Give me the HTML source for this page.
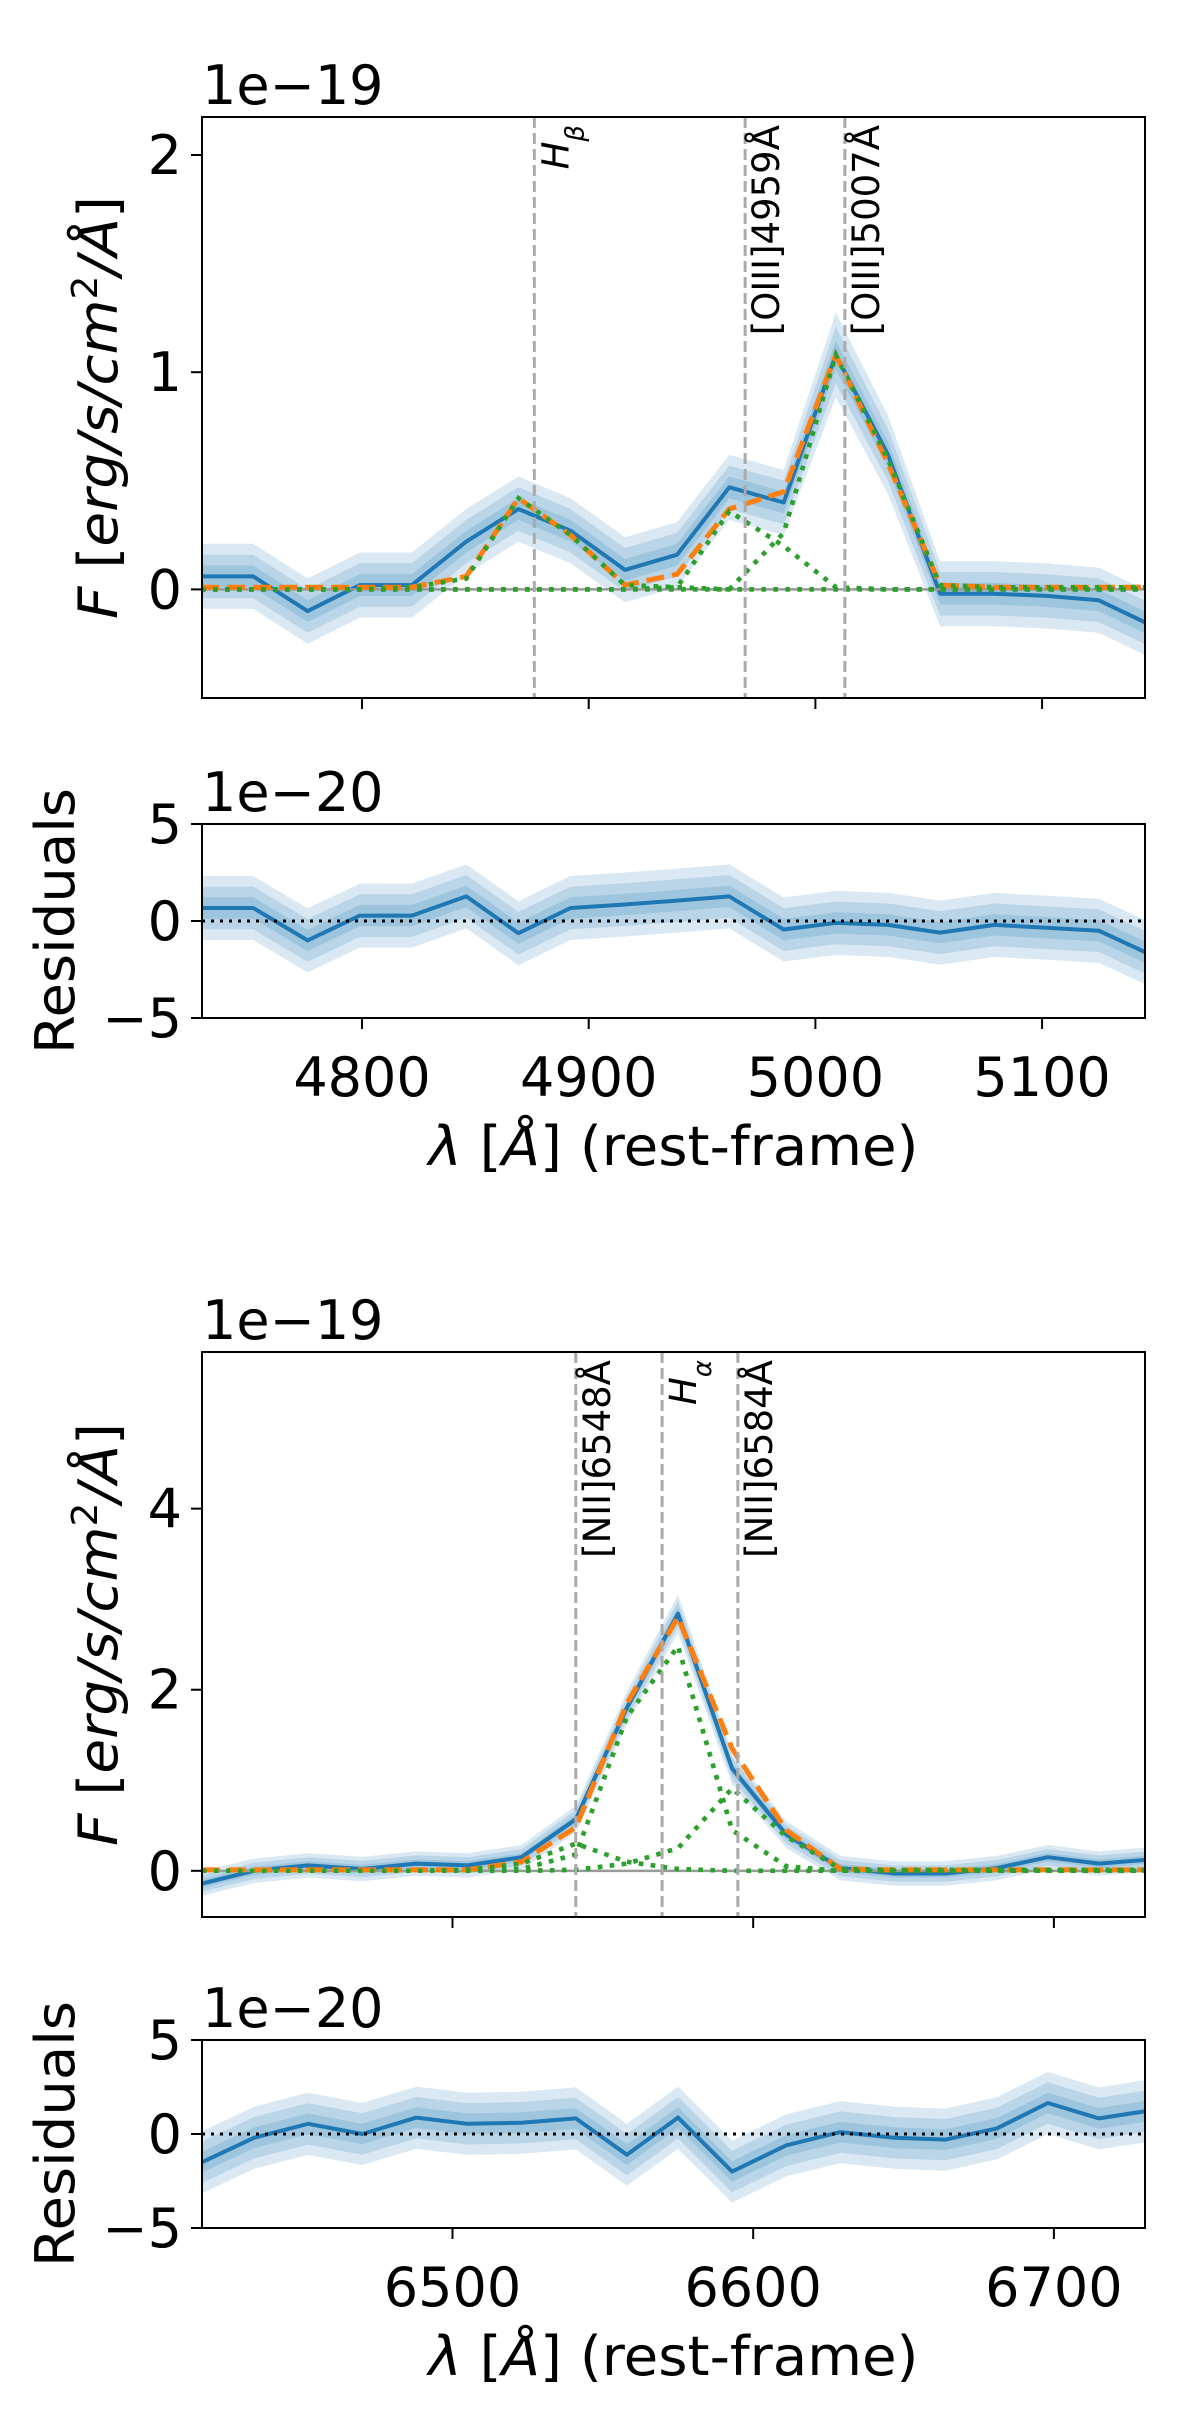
<!DOCTYPE html>
<html><head><meta charset="utf-8"><title>Emission line fits</title>
<style>
html,body{margin:0;padding:0;background:#fff;}
svg{display:block;font-family:"DejaVu Sans","Liberation Sans",sans-serif;}
</style></head>
<body>
<svg id="fig" width="1200" height="2435" viewBox="0 0 1200 2435" xmlns="http://www.w3.org/2000/svg"></svg>
<script>
// ---------- DATA: panel 1 (H-beta / [OIII]) ----------
const wave1 = [4729,4752,4776,4799,4822,4846,4869,4892,4916,4939,4962,4986,5009,5032,5055,5079,5102,5125,5149];
const flux1 = [0.06,0.06,-0.10,0.02,0.02,0.22,0.37,0.27,0.09,0.16,0.47,0.40,1.08,0.62,-0.02,-0.02,-0.03,-0.05,-0.17];
const sigma1 = [0.05,0.05,0.05,0.05,0.05,0.05,0.05,0.05,0.05,0.05,0.05,0.05,0.065,0.06,0.05,0.05,0.05,0.05,0.05];
const model1 = [0.01,0.01,0.01,0.01,0.01,0.06,0.42,0.25,0.02,0.07,0.37,0.45,1.08,0.58,0.02,0.01,0.01,0.01,0.01];
const compHb = [0,0,0,0,0.01,0.05,0.42,0.25,0.02,0.01,0,0,0,0,0,0,0,0,0];
const compO4959 = [0,0,0,0,0,0,0,0,0,0.01,0.36,0.20,0.01,0,0,0,0,0,0];
const compO5007 = [0,0,0,0,0,0,0,0,0,0,0.0,0.26,1.08,0.60,0.02,0.01,0.01,0.01,0.01];
const resid1 = [0.67,0.67,-1.0,0.28,0.28,1.27,-0.63,0.67,0.85,1.05,1.27,-0.44,-0.1,-0.2,-0.6,-0.2,-0.35,-0.5,-1.8];
const rsig1 = [0.55,0.55,0.55,0.55,0.55,0.55,0.55,0.55,0.55,0.55,0.55,0.55,0.55,0.55,0.55,0.55,0.55,0.55,0.55];
const lines1 = [4876,4969,5013];
const lineLabels1 = ["Hb","[OIII]4959Å","[OIII]5007Å"];
const xticks1 = [4800,4900,5000,5100];
const yticks1 = [0,1,2];

// ---------- DATA: panel 2 (H-alpha / [NII]) ----------
const wave2 = [6416.7,6434,6452,6470,6488,6505,6523,6541,6558,6575,6593,6611,6629,6647,6664,6681,6698,6715,6730];
const flux2 = [-0.14,0.0,0.06,0.02,0.08,0.06,0.15,0.57,1.80,2.84,1.13,0.40,0.03,-0.03,-0.03,0.03,0.15,0.08,0.12];
const sigma2 = [0.045,0.045,0.045,0.045,0.045,0.045,0.045,0.05,0.06,0.07,0.06,0.05,0.045,0.045,0.045,0.045,0.045,0.045,0.045];
const model2 = [0.01,0.01,0.01,0.01,0.01,0.01,0.10,0.48,1.85,2.80,1.35,0.45,0.02,0.01,0.01,0.01,0.01,0.01,0.01];
const compN6548 = [0,0,0,0,0,0.01,0.08,0.30,0.10,0.02,0,0,0,0,0,0,0,0,0];
const compHa = [0,0,0,0,0,0,0.02,0.18,1.70,2.48,0.45,0.05,0,0,0,0,0,0,0];
const compN6584 = [0,0,0,0,0,0,0,0.01,0.08,0.25,0.91,0.38,0.02,0.01,0.01,0.01,0.01,0.01,0.01];
const resid2 = [-1.5,-0.2,0.54,0.0,0.87,0.54,0.6,0.83,-1.1,0.87,-2.0,-0.6,0.1,-0.2,-0.3,0.3,1.65,0.83,1.2];
const rsig2 = [0.55,0.55,0.55,0.55,0.55,0.55,0.55,0.55,0.55,0.55,0.55,0.55,0.55,0.55,0.55,0.55,0.55,0.55,0.55];
const lines2 = [6541,6569.7,6594.9];
const lineLabels2 = ["[NII]6548Å","Ha","[NII]6584Å"];
const xticks2 = [6500,6600,6700];
const yticks2 = [0,2,4];
const rticks = [-5,0,5];

const NS = "http://www.w3.org/2000/svg";
const svg = document.getElementById('fig');
function mk(tag, attrs, parent){
  const e = document.createElementNS(NS, tag);
  for (const k in attrs) e.setAttribute(k, attrs[k]);
  (parent||svg).appendChild(e);
  return e;
}
const BLUE="#1f77b4", ORANGE="#ff7f0e", GREEN="#2ca02c";
const L=202, R=1145;

function scale(d0,d1,p0,p1){ return v => p0 + (v-d0)/(d1-d0)*(p1-p0); }
function pathOf(xs, ys, sx, sy){
  return xs.map((x,i)=>(i?'L':'M')+sx(x).toFixed(1)+','+sy(ys[i]).toFixed(1)).join(' ');
}
function bandOf(xs, ys, sg, k, sx, sy){
  let up = xs.map((x,i)=>sx(x).toFixed(1)+','+sy(ys[i]+k*sg[i]).toFixed(1));
  let dn = xs.map((x,i)=>sx(x).toFixed(1)+','+sy(ys[i]-k*sg[i]).toFixed(1)).reverse();
  return 'M'+up.join(' L')+' L'+dn.join(' L')+' Z';
}

function drawBands(g, xs, ys, sg, sx, sy, name){
  for (const k of [3,2,1]){
    const p = mk('path',{d:bandOf(xs,ys,sg,k,sx,sy),fill:BLUE,'fill-opacity':0.17,stroke:'none'},g);
    
    
  }
  const ln = mk('path',{d:pathOf(xs,ys,sx,sy),fill:'none',stroke:BLUE,'stroke-width':4,'stroke-linejoin':'round'},g);
  
  
}

function yLabelText(g, x, y, len, parts, name){
  const t = mk('text',{x:0,y:0,transform:`translate(${x},${y}) rotate(-90)`,'text-anchor':'middle','font-size':54,fill:'#000',textLength:len,lengthAdjust:'spacingAndGlyphs'},g);
  
  
  for (const p of parts){
    const ts = mk('tspan',{},t);
    if (p.it) ts.setAttribute('font-style','italic');
    if (p.sup){ ts.setAttribute('baseline-shift','super'); ts.setAttribute('font-size','36'); }
    ts.textContent = p.s;
  }
  return t;
}

function panel(o){
  const g = mk('g',{});
  
  
  // ---- flux axes ----
  const sx = scale(o.xlim[0],o.xlim[1],L,R);
  const sy = scale(o.ylim[0],o.ylim[1],o.fb,o.ft);
  const clipId = o.name+'-clip';
  const cp = mk('clipPath',{id:clipId},g);
  mk('rect',{x:L,y:o.ft,width:R-L,height:o.fb-o.ft},cp);
  const cg = mk('g',{'clip-path':`url(#${clipId})`},g);
  drawBands(cg, o.wave, o.flux, o.sigma, sx, sy, o.name+'-flux');
  const zl = mk('line',{x1:L,x2:R,y1:sy(0),y2:sy(0),stroke:'#999','stroke-width':2.5},cg);
  
  
  o.comps.forEach((c,i)=>{
    const p = mk('path',{d:pathOf(o.wave,c,sx,sy),fill:'none',stroke:GREEN,'stroke-width':4.5,'stroke-dasharray':'4.5 7.5'},cg);
    
    
  });
  const mp = mk('path',{d:pathOf(o.wave,o.model,sx,sy),fill:'none',stroke:ORANGE,'stroke-width':5,'stroke-dasharray':'18 8'},cg);
  
  
  // re-draw green on top
  o.comps.forEach((c,i)=>{
    const p = mk('path',{d:pathOf(o.wave,c,sx,sy),fill:'none',stroke:GREEN,'stroke-width':4.5,'stroke-dasharray':'4.5 7.5'},cg);
    
    
  });
  // vertical line markers and labels
  o.lines.forEach((w,i)=>{
    const x = sx(w);
    const vl = mk('line',{x1:x,x2:x,y1:o.ft,y2:o.fb,stroke:'#aaa','stroke-width':3,'stroke-dasharray':'11 5'},g);
    
    
    const lab = o.lineLabels[i];
    const t = mk('text',{x:0,y:0,transform:`translate(${x+34},${o.ft+8}) rotate(-90)`,'text-anchor':'end','font-size':37,fill:'#000'},g);
    
    
    if (lab==='Hb' || lab==='Ha'){
      const a = mk('tspan',{'font-style':'italic'},t); a.textContent='H';
      const b = mk('tspan',{'font-style':'italic','font-size':26,'baseline-shift':'sub'},b0=t); b.textContent = lab==='Hb'?'β':'α';
    } else t.textContent = lab;
  });
  // frame
  const fr = mk('rect',{x:L,y:o.ft,width:R-L,height:o.fb-o.ft,fill:'none',stroke:'#000','stroke-width':2},g);
  
  
  o.xticks.forEach(v=>{
    const tk = mk('line',{x1:sx(v),x2:sx(v),y1:o.fb,y2:o.fb+11,stroke:'#000','stroke-width':2},g);
    
    
  });
  o.yticks.forEach(v=>{
    const tk = mk('line',{x1:L-11,x2:L,y1:sy(v),y2:sy(v),stroke:'#000','stroke-width':2},g);
    
    
    const tl = mk('text',{x:L-20,y:sy(v)+19,'text-anchor':'end','font-size':54,fill:'#000'},g);
    
    
    tl.textContent = String(v).replace('-','−');
  });
  const off = mk('text',{x:L,y:o.ft-13,'font-size':54,fill:'#000'},g);
  
  
  off.textContent = '1e−19';
  yLabelText(g, 117, (o.ft+o.fb)/2, 423, [{s:'F',it:1},{s:' ['},{s:'erg/s/cm',it:1},{s:'2',sup:1},{s:'/Å',it:1},{s:']'}], 'flux-y-axis-title');

  // ---- residual axes ----
  const ry = scale(-5,5,o.rb,o.rt);
  const clipId2 = o.name+'-rclip';
  const cp2 = mk('clipPath',{id:clipId2},g);
  mk('rect',{x:L,y:o.rt,width:R-L,height:o.rb-o.rt},cp2);
  const rg = mk('g',{'clip-path':`url(#${clipId2})`},g);
  drawBands(rg, o.wave, o.resid, o.rsig, sx, ry, o.name+'-residual');
  const rz = mk('line',{x1:L,x2:R,y1:ry(0),y2:ry(0),stroke:'#000','stroke-width':3,'stroke-dasharray':'3 6'},rg);
  
  
  const rf = mk('rect',{x:L,y:o.rt,width:R-L,height:o.rb-o.rt,fill:'none',stroke:'#000','stroke-width':2},g);
  
  
  o.xticks.forEach(v=>{
    const tk = mk('line',{x1:sx(v),x2:sx(v),y1:o.rb,y2:o.rb+11,stroke:'#000','stroke-width':2},g);
    
    
    const tl = mk('text',{x:sx(v),y:o.rb+78,'text-anchor':'middle','font-size':54,fill:'#000'},g);
    
    
    tl.textContent = v;
  });
  rticks.forEach(v=>{
    const tk = mk('line',{x1:L-11,x2:L,y1:ry(v),y2:ry(v),stroke:'#000','stroke-width':2},g);
    
    
    const tl = mk('text',{x:L-20,y:ry(v)+19,'text-anchor':'end','font-size':54,fill:'#000'},g);
    
    
    tl.textContent = String(v).replace('-','−');
  });
  const roff = mk('text',{x:L,y:o.rt-13,'font-size':54,fill:'#000'},g);
  
  
  roff.textContent = '1e−20';
  yLabelText(g, 74, (o.rt+o.rb)/2, 266, [{s:'Residuals'}], 'residual-y-axis-title');
  const xl = mk('text',{x:(L+R)/2,y:o.rb+147,'text-anchor':'middle','font-size':54,fill:'#000',textLength:490,lengthAdjust:'spacingAndGlyphs'},g);
  
  
  const a1 = mk('tspan',{'font-style':'italic'},xl); a1.textContent='λ';
  const a2 = mk('tspan',{},xl); a2.textContent=' [';
  const a3 = mk('tspan',{'font-style':'italic'},xl); a3.textContent='Å';
  const a4 = mk('tspan',{},xl); a4.textContent='] (rest-frame)';
}

panel({name:'hbeta-oiii-panel', xlim:[4729.4,5145.4], ylim:[-0.5,2.175], ft:117, fb:698, rt:824, rb:1018,
  wave:wave1, flux:flux1, sigma:sigma1, model:model1, comps:[compHb,compO4959,compO5007], compNames:['hbeta','oiii4959','oiii5007'],
  resid:resid1, rsig:rsig1, lines:lines1, lineLabels:lineLabels1, xticks:xticks1, yticks:yticks1});
panel({name:'halpha-nii-panel', xlim:[6416.7,6730.3], ylim:[-0.51,5.73], ft:1352, fb:1917, rt:2040, rb:2228,
  wave:wave2, flux:flux2, sigma:sigma2, model:model2, comps:[compN6548,compHa,compN6584], compNames:['nii6548','halpha','nii6584'],
  resid:resid2, rsig:rsig2, lines:lines2, lineLabels:lineLabels2, xticks:xticks2, yticks:yticks2});
</script>
</body></html>
